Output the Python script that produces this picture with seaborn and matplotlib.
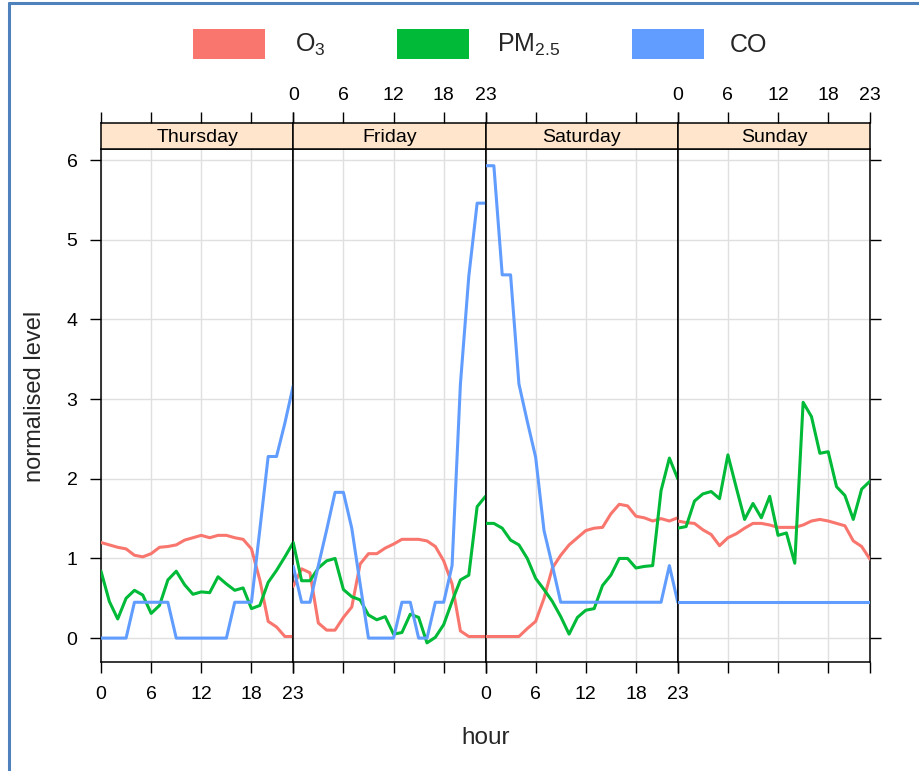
import numpy as np
import pandas as pd
import matplotlib
matplotlib.use("Agg")
import matplotlib.pyplot as plt
import seaborn as sns
from matplotlib.patches import Rectangle
from matplotlib.lines import Line2D

sns.set_style("white")
plt.rcParams["font.family"] = ["Liberation Sans", "DejaVu Sans"]
plt.rcParams["mathtext.fontset"] = "custom"
plt.rcParams["mathtext.rm"] = "Liberation Sans"
plt.rcParams["mathtext.it"] = "Liberation Sans"

# ---------------- data ----------------
days = ["Thursday", "Friday", "Saturday", "Sunday"]
hours = list(range(24))
series = ["O3", "PM2.5", "CO"]
series_labels = [r"O$_3$", r"PM$_{2.5}$", "CO"]
colors = ["#F8766D", "#00BA38", "#619CFF"]

o3_thu = [1.20, 1.17, 1.14, 1.12, 1.04, 1.02, 1.06, 1.14, 1.15, 1.17, 1.23, 1.26,
          1.29, 1.26, 1.29, 1.29, 1.26, 1.24, 1.12, 0.73, 0.21, 0.14, 0.02, 0.02]
o3_fri = [0.65, 0.87, 0.82, 0.19, 0.10, 0.10, 0.26, 0.39, 0.93, 1.06, 1.06, 1.13,
          1.18, 1.24, 1.24, 1.24, 1.22, 1.15, 0.97, 0.68, 0.09, 0.02, 0.02, 0.02]
o3_sat = [0.02, 0.02, 0.02, 0.02, 0.02, 0.12, 0.21, 0.50, 0.88, 1.04, 1.17, 1.26,
          1.35, 1.38, 1.39, 1.56, 1.68, 1.66, 1.53, 1.51, 1.47, 1.50, 1.47, 1.51]
o3_sun = [1.47, 1.45, 1.44, 1.36, 1.30, 1.16, 1.26, 1.31, 1.38, 1.44, 1.44, 1.42,
          1.39, 1.39, 1.39, 1.42, 1.47, 1.49, 1.47, 1.44, 1.41, 1.22, 1.15, 0.99]

pm_thu = [0.84, 0.46, 0.24, 0.50, 0.60, 0.54, 0.31, 0.41, 0.73, 0.84, 0.67, 0.55,
          0.58, 0.57, 0.77, 0.68, 0.60, 0.63, 0.37, 0.41, 0.70, 0.85, 1.02, 1.20]
pm_fri = [1.20, 0.72, 0.72, 0.88, 0.97, 1.00, 0.61, 0.52, 0.48, 0.29, 0.23, 0.27,
          0.05, 0.07, 0.30, 0.26, -0.06, 0.01, 0.17, 0.46, 0.73, 0.79, 1.65, 1.78]
pm_sat = [1.44, 1.44, 1.38, 1.23, 1.17, 1.00, 0.75, 0.61, 0.46, 0.27, 0.05, 0.26,
          0.35, 0.37, 0.66, 0.79, 1.00, 1.00, 0.88, 0.90, 0.91, 1.85, 2.26, 2.00]
pm_sun = [1.38, 1.40, 1.72, 1.81, 1.84, 1.75, 2.30, 1.89, 1.49, 1.69, 1.51, 1.78,
          1.29, 1.32, 0.94, 2.96, 2.78, 2.32, 2.34, 1.90, 1.79, 1.49, 1.87, 1.97]

co_thu = [0.00, 0.00, 0.00, 0.00, 0.45, 0.45, 0.45, 0.45, 0.45, 0.00, 0.00, 0.00,
          0.00, 0.00, 0.00, 0.00, 0.45, 0.45, 0.45, 1.36, 2.28, 2.28, 2.70, 3.17]
co_fri = [0.90, 0.45, 0.45, 0.91, 1.36, 1.83, 1.83, 1.38, 0.68, 0.00, 0.00, 0.00,
          0.00, 0.45, 0.45, 0.00, 0.00, 0.45, 0.45, 0.91, 3.19, 4.54, 5.46, 5.46]
co_sat = [5.93, 5.93, 4.56, 4.56, 3.19, 2.72, 2.27, 1.35, 0.91, 0.45, 0.45, 0.45,
          0.45, 0.45, 0.45, 0.45, 0.45, 0.45, 0.45, 0.45, 0.45, 0.45, 0.91, 0.45]
co_sun = [0.45] * 24

x_ticks = [0, 6, 12, 18, 23]
y_ticks = [0, 1, 2, 3, 4, 5, 6]

data = {
    "O3": [o3_thu, o3_fri, o3_sat, o3_sun],
    "PM2.5": [pm_thu, pm_fri, pm_sat, pm_sun],
    "CO": [co_thu, co_fri, co_sat, co_sun],
}
rows = []
for s in series:
    for d, vals in zip(days, data[s]):
        for h, v in zip(hours, vals):
            rows.append({"day": d, "hour": h, "variable": s, "value": v})
df = pd.DataFrame(rows)

# ---------------- figure ----------------
W, H = 919, 771
fig = plt.figure(figsize=(W / 100, H / 100), dpi=100)

def fx(px):
    return px / W

def fy(py):
    return 1 - py / H

panel_left = 101
panel_w = (870 - 101) / 4
panel_top = 149
panel_bottom = 662
strip_top = 123

grid_col = "#E0E0E0"
for i, d in enumerate(days):
    L = fx(panel_left + i * panel_w)
    ax = fig.add_axes([L, fy(panel_bottom), panel_w / W, (panel_bottom - panel_top) / H])
    sub = df[df["day"] == d]
    sns.lineplot(data=sub, x="hour", y="value", hue="variable", hue_order=series,
                 palette=colors, ax=ax, legend=False, linewidth=2.2, zorder=3)
    ax.set_xlim(0, 23)
    ax.set_ylim(-0.30, 6.14)
    ax.set_xticks(x_ticks)
    ax.set_yticks(y_ticks)
    ax.grid(True, color=grid_col, linewidth=1.0, zorder=0)
    ax.set_axisbelow(True)
    ax.set_xlabel("")
    ax.set_ylabel("")
    for sp in ax.spines.values():
        sp.set_color("black")
        sp.set_linewidth(1.1)
    ax.tick_params(axis="x", direction="out", length=8, width=1, color="black",
                   bottom=True, top=False, labelbottom=(i % 2 == 0),
                   labelsize=14, pad=9, labelcolor="black")
    ax.tick_params(axis="y", direction="out", length=8, width=1, color="black",
                   left=(i == 0), right=(i == 3), labelleft=(i == 0),
                   labelright=False, labelsize=14, pad=9, labelcolor="black")

    sax = fig.add_axes([L, fy(panel_top), panel_w / W, (panel_top - strip_top) / H])
    sax.set_facecolor("#FFE5CC")
    sax.set_xlim(0, 23)
    sax.set_ylim(0, 1)
    sax.set_xticks(x_ticks)
    sax.set_yticks([])
    sax.grid(False)
    for sp in sax.spines.values():
        sp.set_color("black")
        sp.set_linewidth(1.1)
    sax.tick_params(axis="x", direction="out", length=8, width=1, color="black",
                    top=True, bottom=False, labeltop=(i % 2 == 1),
                    labelbottom=False, labelsize=14, pad=6, labelcolor="black")
    sax.text(0.5, 0.45, d, transform=sax.transAxes, ha="center", va="center",
             fontsize=14, color="black")

# axis titles
fig.text(fx(486), fy(738), "hour", ha="center", va="center", fontsize=17.5)
fig.text(fx(35), fy(396), "normalised level", ha="center", va="center",
         rotation=90, fontsize=17)

# legend
rect_x = [193, 397, 632]
text_x = [295, 497, 730]
for rx, tx, lab, c in zip(rect_x, text_x, series_labels, colors):
    fig.patches.append(Rectangle((fx(rx), fy(59)), 72 / W, 30 / H,
                                 transform=fig.transFigure, facecolor=c,
                                 edgecolor="none"))
    fig.text(fx(tx), fy(45), lab, ha="left", va="center", fontsize=18)

# frame lines (top and left)
fig.add_artist(Line2D([fx(8.5), fx(8.5)], [0, fy(3)], transform=fig.transFigure,
                      color="#4F81BD", linewidth=2.2))
fig.add_artist(Line2D([fx(8.5), 1], [fy(3), fy(3)], transform=fig.transFigure,
                      color="#4F81BD", linewidth=2.2))

fig.savefig("out.png", dpi=100)
